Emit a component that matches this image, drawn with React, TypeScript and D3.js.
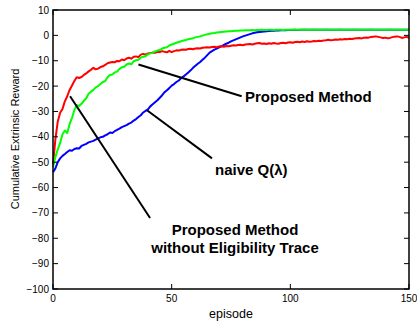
import React from "react";
import * as d3 from "d3";

const redValues = [
  -51, -41, -34, -30.5, -29, -26, -24, -21.5, -19.8, -18, -16.5,
  -16.8, -16.4, -15.6, -15, -14.2, -13.6, -12.8, -13.4, -13.1, -12.5,
  -12.2, -11.6, -11, -10.7, -10.5, -10.6, -10.1, -10.2, -9.5, -9.8,
  -9.1, -8.8, -9.2, -8.4, -8.3, -8.6, -7.6, -7.3, -7.6, -7.1,
  -7, -6.8, -6.9, -6.5, -6.6, -6.2, -6.5, -6.7, -6.1, -6.6,
  -6.2, -5.9, -6, -5.7, -5.6, -5.7, -5.4, -5.3, -5.5, -5.2,
  -5.1, -5.2, -4.9, -4.8, -4.7, -4.8, -4.6, -4.5, -4.7, -4.4,
  -4.3, -4.5, -4.2, -4.3, -4.1, -3.9, -4.0, -3.8, -3.7, -3.9,
  -3.6, -3.5, -3.4, -3.6, -3.3, -3.1, -3.0, -3.3, -3.2, -3.4,
  -3.1, -3.3, -3.0, -3.2, -3.3, -3.0, -2.9, -3.1, -2.8, -2.7,
  -2.9, -2.6, -2.5, -2.7, -2.4, -2.6, -2.3, -2.5, -2.4, -2.2,
  -2.3, -2.1, -2.2, -2.0, -1.9, -1.7, -1.9, -1.8, -1.6, -1.7,
  -1.5, -1.6, -1.4, -1.5, -1.3, -1.4, -1.2, -1.1, -1.0, -1.2,
  -0.9, -0.8, -0.9, -0.6, -0.5, -0.4, -0.6, -0.8, -1.0, -0.9,
  -1.1, -1.0, -0.7, -0.5, -0.4, -0.6, -1.0, -0.8, -0.6, -1.0,
];

const greenValues = [
  -52, -48, -45, -42.5, -39, -37.5, -38.5, -35, -32.5, -29.5, -27.5,
  -27.8, -27, -25.8, -24.8, -23, -22.2, -21.5, -20.5, -20, -19.2,
  -18.4, -18, -16.5, -15.6, -15.4, -14.6, -14.3, -13.2, -12.6, -12.4,
  -11.5, -11.1, -11.4, -10.2, -9.8, -9.6, -8.8, -8.4, -8.2, -7.5,
  -7.1, -6.9, -6.3, -6.0, -5.8, -5.2, -4.9, -4.7, -4.0, -3.6,
  -3.3, -2.9, -2.6, -2.3, -2.0, -1.8, -1.5, -1.3, -1.1, -0.8,
  -0.6, -0.4, -0.1, 0.2, 0.4, 0.6, 0.8, 0.9, 1.1, 1.2,
  1.3, 1.4, 1.5, 1.6, 1.6, 1.7, 1.8, 1.8, 1.9, 1.9,
  2.0, 2.0, 2.0, 2.1, 2.0, 2.1, 2.1, 2.2, 2.1, 2.1,
  2.2, 2.2, 2.1, 2.2, 2.2, 2.2, 2.1, 2.2, 2.2, 2.2,
  2.3, 2.2, 2.2, 2.2, 2.2, 2.3, 2.2, 2.2, 2.2, 2.3,
  2.2, 2.2, 2.2, 2.2, 2.3, 2.2, 2.2, 2.2, 2.2, 2.2,
  2.3, 2.2, 2.2, 2.2, 2.2, 2.2, 2.3, 2.2, 2.2, 2.2,
  2.2, 2.2, 2.2, 2.3, 2.2, 2.2, 2.2, 2.2, 2.2, 2.2,
  2.2, 2.3, 2.2, 2.2, 2.2, 2.2, 2.2, 2.2, 2.2, 2.2,
];

const blueValues = [
  -54, -52.5, -50, -48.5, -47.5, -46.8, -46, -45.3, -45.5, -44.8, -44.5,
  -44.6, -43.6, -43.2, -42.8, -42.2, -41.9, -41.6, -41.1, -40.6, -40.2,
  -40.0, -39.4, -39, -38.3, -38.5, -37.8, -37.3, -36.8, -36.2, -35.8,
  -35.4, -34.8, -34.4, -33.6, -33.0, -32.2, -31.5, -30.4, -29.8, -29.2,
  -28.0, -27.2, -26.4, -25.6, -24.6, -23.6, -22.4, -21.6, -20.8, -19.8,
  -19.2, -18.4, -17.8, -16.8, -16.2, -15.4, -14.6, -13.8, -12.8, -12.0,
  -11.2, -10.5, -9.6, -8.8, -7.8, -6.8, -6.2, -5.6, -5.2, -4.7,
  -4.3, -3.8, -3.3, -2.9, -2.4, -2.0, -1.6, -1.2, -0.8, -0.4,
  -0.1, 0.2, 0.5, 0.8, 1.0, 1.2, 1.3, 1.4, 1.5, 1.6,
  1.7, 1.8, 1.8, 1.9, 1.9, 2.0, 2.0, 2.0, 2.1, 2.1,
  2.1, 2.2, 2.1, 2.2, 2.2, 2.2, 2.2, 2.2, 2.2, 2.2,
  2.2, 2.2, 2.2, 2.2, 2.2, 2.2, 2.2, 2.2, 2.2, 2.2,
  2.2, 2.2, 2.2, 2.2, 2.2, 2.2, 2.2, 2.2, 2.2, 2.2,
  2.2, 2.2, 2.2, 2.2, 2.2, 2.2, 2.2, 2.2, 2.2, 2.2,
  2.2, 2.2, 2.2, 2.2, 2.2, 2.2, 2.2, 2.2, 2.2, 2.2,
];

const xTicks = [0, 50, 100, 150];
const yTicks = [10, 0, -10, -20, -30, -40, -50, -60, -70, -80, -90, -100];

// annotation pointer ends, in data units [episode, reward]
const annotations = [
  { label: ["Proposed Method"], from: [36, -11.5], to: [79.5, -24], tx: 245, ty: 102, anchor: "start" },
  { label: ["naive Q(\u03bb)"], from: [39.6, -29.5], to: [67, -48.5], tx: 215, ty: 175, anchor: "start" },
  { label: ["Proposed Method", "without Eligibility Trace"], from: [7.2, -24], to: [40.9, -72], tx: 235, ty: 234.5, anchor: "middle" },
];

const W = 417;
const H = 326;
const FONT = "'Liberation Sans', Arial, Helvetica, sans-serif";

export default function App() {
  const x = d3.scaleLinear().domain([0, 150]).range([53, 409]);
  const y = d3.scaleLinear().domain([-100, 10]).range([289, 10]);
  const line = d3
    .line<number>()
    .x((_, i) => x(i))
    .y((d) => y(d));

  const fmt = (v: number) => (v < 0 ? "\u2212" + Math.abs(v) : String(v));

  return (
    <svg
      width={W}
      height={H}
      style={{ position: "absolute", left: 0, top: 0, background: "#fff" }}
      fontFamily={FONT}
    >
      <rect x={0} y={0} width={W} height={H} fill="#fff" />
      {/* curves */}
      <path d={line(blueValues) || ""} fill="none" stroke="#0000ff" strokeWidth={2} strokeLinejoin="round" />
      <path d={line(redValues) || ""} fill="none" stroke="#ff0000" strokeWidth={2} strokeLinejoin="round" />
      <path d={line(greenValues) || ""} fill="none" stroke="#00ff00" strokeWidth={2} strokeLinejoin="round" />

      {/* axes box */}
      <rect x={53} y={10} width={356} height={279} fill="none" stroke="#000" strokeWidth={1.5} />
      {yTicks.map((t) => (
        <g key={"y" + t}>
          <line x1={53} x2={58} y1={y(t)} y2={y(t)} stroke="#000" strokeWidth={1} />
          <line x1={409} x2={404} y1={y(t)} y2={y(t)} stroke="#000" strokeWidth={1} />
          <text x={49} y={y(t)} dy="0.35em" textAnchor="end" fontSize={10} fill="#000">
            {fmt(t)}
          </text>
        </g>
      ))}
      {xTicks.map((t) => (
        <g key={"x" + t}>
          <line x1={x(t)} x2={x(t)} y1={289} y2={284} stroke="#000" strokeWidth={1} />
          <line x1={x(t)} x2={x(t)} y1={10} y2={15} stroke="#000" strokeWidth={1} />
          <text x={x(t)} y={302} textAnchor="middle" fontSize={10} fill="#000">
            {t}
          </text>
        </g>
      ))}
      <text x={231} y={318} textAnchor="middle" fontSize={12.5} fill="#000">
        episode
      </text>
      <text
        transform="translate(19,139) rotate(-90)"
        textAnchor="middle"
        fontSize={11}
        fill="#000"
      >
        Cumulative Extrinsic Reward
      </text>

      {/* annotations */}
      {annotations.map((a, i) => (
        <g key={"a" + i}>
          <line
            x1={x(a.from[0])}
            y1={y(a.from[1])}
            x2={x(a.to[0])}
            y2={y(a.to[1])}
            stroke="#000"
            strokeWidth={2}
          />
          {a.label.map((l, j) => (
            <text
              key={j}
              x={a.tx}
              y={a.ty + j * 18}
              textAnchor={a.anchor as any}
              fontSize={15}
              fontWeight="bold"
              fill="#000"
            >
              {l}
            </text>
          ))}
        </g>
      ))}
    </svg>
  );
}
